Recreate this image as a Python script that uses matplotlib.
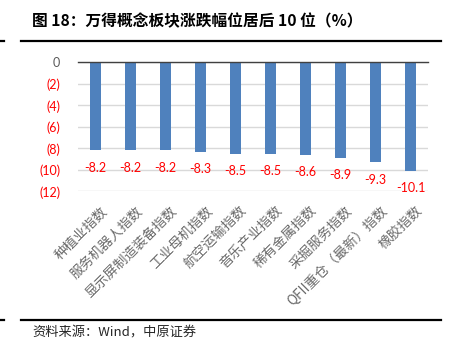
import numpy as np
import matplotlib
matplotlib.use("Agg")
import matplotlib.pyplot as plt
from matplotlib.lines import Line2D
from matplotlib.ticker import FuncFormatter
import matplotlib.transforms as mtransforms

plt.rcParams['font.family'] = ['Noto Sans CJK SC', 'DejaVu Sans']

# Data
categories = ["种植业指数", "服务机器人指数", "显示屏制造装备指数", "工业母机指数",
              "航空运输指数", "音乐产业指数", "稀有金属指数", "采掘服务指数",
              "QFII重仓（最新）指数", "橡胶指数"]
values = [-8.2, -8.2, -8.2, -8.3, -8.5, -8.5, -8.6, -8.9, -9.3, -10.1]
y_ticks = [0, -2, -4, -6, -8, -10, -12]

title = "图 18：万得概念板块涨跌幅位居后 10 位（%）"
source = "资料来源：Wind，中原证券"

W, H = 453, 351
fig = plt.figure(figsize=(W / 100, H / 100), dpi=100)

# axes placed in pixel coordinates of the reference
left, right, top, bottom = 78.3, 428.3, 62.3, 191.3
ax = fig.add_axes([left / W, 1 - bottom / H, (right - left) / W, (bottom - top) / H])

x = np.arange(len(categories))
ax.bar(x, values, width=0.31, color="#4F81BD", zorder=2)

ax.set_xlim(-0.5, len(categories) - 0.5)
ax.set_ylim(-12, 0)
ax.set_yticks(y_ticks)
ax.yaxis.set_major_formatter(FuncFormatter(
    lambda v, p: "0" if v == 0 else f"({abs(int(v))})"))
ax.grid(axis="y", color="#D9D9D9", linewidth=1, zorder=0)
ax.tick_params(axis="y", length=0, pad=13)
ax.tick_params(axis="x", length=0, pad=9)
for lab, v in zip(ax.get_yticklabels(), y_ticks):
    lab.set_family(["Lato", "DejaVu Sans"])
    lab.set_fontsize(9)
    lab.set_color("#595959" if v == 0 else "#FF0000")

for s in ["left", "right", "bottom"]:
    ax.spines[s].set_visible(False)
ax.spines["top"].set_color("#404040")
ax.spines["top"].set_linewidth(1.0)

ax.set_xticks(x)
ax.set_xticklabels(categories, rotation=45, ha="right", va="top",
                   rotation_mode="anchor", fontsize=9.8, color="#6A6A6A")
for lab in ax.get_xticklabels():
    lab.set_transform(lab.get_transform() + mtransforms.ScaledTranslation(
        4 / 100, 0, fig.dpi_scale_trans))

# data labels under each bar end
offset = mtransforms.offset_copy(ax.transData, fig=fig, x=0, y=-17.4, units="dots")
for xi, v in zip(x, values):
    ax.text(xi, v, f"{v:.1f}", transform=offset, ha="center", va="center",
            fontsize=9, color="#FF0000", family=["Lato", "DejaVu Sans"])

# title, rules and source
fig.text(32 / W, 1 - 21 / H, title, fontsize=11.3, fontweight="bold",
         color="#000000", va="center", ha="left")
for yy in (40.7, 319.5):
    fig.add_artist(Line2D([20.7 / W, 440.7 / W], [1 - yy / H, 1 - yy / H],
                          color="black", linewidth=1.6))
    fig.add_artist(Line2D([0, 3.5 / W], [1 - yy / H, 1 - yy / H],
                          color="black", linewidth=1.6))
fig.text(32 / W, 1 - 333 / H, source, fontsize=9.5, color="#262626",
         va="center", ha="left")

fig.savefig("out.png", dpi=100, facecolor="white")
